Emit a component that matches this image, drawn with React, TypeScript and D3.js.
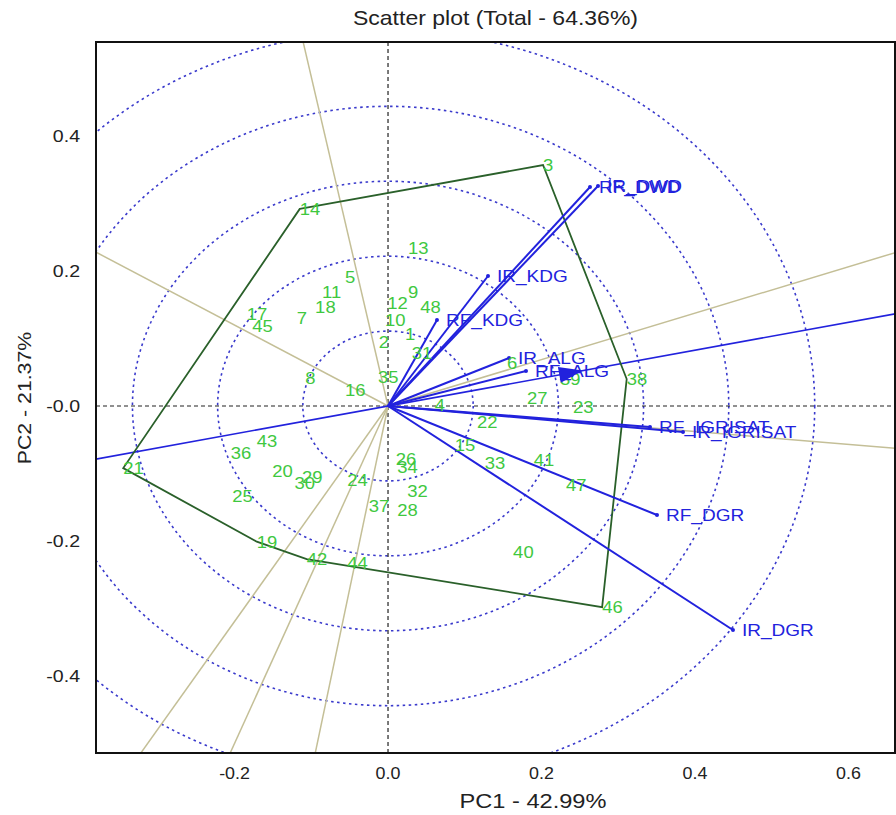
import React from 'react';
import * as d3 from 'd3';

// ---------- data ----------
const genoLabels = ['1','2','3','4','5','6','7','8','9','10','11','12','13','14','15','16','17','18','19','20','21','22','23','24','25','26','27','28','29','30','31','32','33','34','35','36','37','38','39','40','41','42','43','44','45','46','47','48'];
const genoX = [0.022,-0.012,0.202,0.061,-0.056,0.155,-0.119,-0.108,0.026,-0.004,-0.086,-0.001,0.026,-0.115,0.087,-0.056,-0.184,-0.095,-0.171,-0.151,-0.345,0.116,0.241,-0.053,-0.203,0.010,0.181,0.012,-0.112,-0.122,0.031,0.025,0.126,0.012,-0.013,-0.205,-0.025,0.311,0.224,0.163,0.190,-0.106,-0.171,-0.053,-0.177,0.279,0.232,0.042];
const genoY = [0.107,0.095,0.357,0.001,0.191,0.064,0.130,0.041,0.169,0.127,0.169,0.153,0.234,0.292,-0.058,0.024,0.136,0.147,-0.201,-0.096,-0.092,-0.024,-0.001,-0.110,-0.133,-0.079,0.012,-0.154,-0.105,-0.114,0.079,-0.126,-0.084,-0.090,0.043,-0.070,-0.148,0.040,0.040,-0.216,-0.080,-0.227,-0.052,-0.233,0.119,-0.298,-0.117,0.147];
const hullOrder = ['14','3','38','46','42','19','21'];

const envNames = ['IR_DWD','RF_DWD','IR_KDG','RF_KDG','IR_ALG','RF_ALG','RF_IGRISAT','IR_IGRISAT','RF_DGR','IR_DGR'];
const envX = [0.2736,0.2632,0.1303,0.0638,0.1577,0.1798,0.3414,0.3844,0.3505,0.4495];
const envY = [0.3259,0.3245,0.1926,0.1274,0.0711,0.0519,-0.0311,-0.0385,-0.1615,-0.3319];

const aeaX = 0.254;
const aeaY = 0.0525;

const circleRadii = [0.111,0.222,0.333,0.444,0.556];
const xTicks = [-0.2,0,0.2,0.4,0.6];
const xTickLabels = ['-0.2','0.0','0.2','0.4','0.6'];
const yTicks = [0.4,0.2,0,-0.2,-0.4];
const yTickLabels = ['0.4','0.2','-0.0','-0.2','-0.4'];

const title = 'Scatter plot (Total - 64.36%)';
const xLabel = 'PC1 - 42.99%';
const yLabel = 'PC2 - 21.37%';

// ---------- layout ----------
const W = 896, H = 815;
const L = 96, R = 895, T = 42, B = 753;

const C = {
  geno: '#3fc83f',
  hull: '#2a602a',
  env: '#2222dd',
  circ: '#3a3acc',
  ray: '#c4bf97',
  axis: '#222',
};

const FONT = 'Liberation Sans, Arial, Helvetica, sans-serif';

export default function App() {
  const x = d3.scaleLinear().domain([-0.3805, 0.6606]).range([L, R]);
  const y = d3.scaleLinear().domain([0.5393, -0.5141]).range([T, B]);
  const x0 = x(0), y0 = y(0);

  const idx = (lab: string) => genoLabels.indexOf(lab);
  const hullPts = hullOrder.map(l => [genoX[idx(l)], genoY[idx(l)]] as [number, number]);
  const line = d3.line<[number, number]>().x(d => x(d[0])).y(d => y(d[1]));

  // perpendicular rays from origin to each hull side
  const rays = hullPts.map((a, i) => {
    const b = hullPts[(i + 1) % hullPts.length];
    const dx = b[0] - a[0], dy = b[1] - a[1];
    const nx = -dy, ny = dx;
    const len = Math.hypot(nx, ny);
    return [nx / len * 3, ny / len * 3] as [number, number];
  });

  // arrow head for average environment axis
  const tx = x(aeaX), ty = y(aeaY);
  const ux0 = tx - x0, uy0 = ty - y0;
  const ul = Math.hypot(ux0, uy0);
  const ux = ux0 / ul, uy = uy0 / ul;
  const bx = tx - 24 * ux, by = ty - 24 * uy;
  const arrow = `M${tx},${ty}L${bx - 8 * uy},${by + 8 * ux}L${bx + 8 * uy},${by - 8 * ux}Z`;

  const sx = 1.12;

  return (
    <svg width={W} height={H} style={{ position: 'absolute', left: 0, top: 0, background: '#fff' }} fontFamily={FONT}>
      <defs>
        <clipPath id="plotclip"><rect x={L} y={T} width={R - L} height={B - T} /></clipPath>
      </defs>
      <rect x={0} y={0} width={W} height={H} fill="#fff" />
      <g clipPath="url(#plotclip)">
        {circleRadii.map((r, i) => (
          <ellipse key={'c' + i} cx={x0} cy={y0} rx={x(r) - x0} ry={y0 - y(r)} fill="none"
            stroke={C.circ} strokeWidth={1.6} strokeDasharray="2.5,3.5" />
        ))}
        <line x1={x0} x2={x0} y1={T} y2={B} stroke={C.axis} strokeWidth={1.2} strokeDasharray="4,3" />
        <line x1={L} x2={R} y1={y0} y2={y0} stroke={C.axis} strokeWidth={1.2} strokeDasharray="4,3" />
        {rays.map((d, i) => (
          <line key={'r' + i} x1={x0} y1={y0} x2={x(d[0])} y2={y(d[1])} stroke={C.ray} strokeWidth={1.5} />
        ))}
        <line x1={x(-aeaX * 10)} y1={y(-aeaY * 10)} x2={x(aeaX * 10)} y2={y(aeaY * 10)} stroke={C.env} strokeWidth={1.6} />
        <path d={line(hullPts)! + 'Z'} fill="none" stroke={C.hull} strokeWidth={1.8} />
        {envNames.map((n, i) => (
          <g key={'e' + i}>
            <line x1={x0} y1={y0} x2={x(envX[i])} y2={y(envY[i])} stroke={C.env} strokeWidth={2} />
            <circle cx={x(envX[i])} cy={y(envY[i])} r={2} fill={C.env} />
          </g>
        ))}
        {genoLabels.map((g, i) => (
          <text key={'g' + i} transform={`translate(${x(genoX[i])},${y(genoY[i])}) scale(${sx},1)`}
            dy="0.36em" fontSize={16.5} fill={C.geno}>{g}</text>
        ))}
        {envNames.map((n, i) => (
          <text key={'el' + i} transform={`translate(${x(envX[i]) + 9},${y(envY[i])}) scale(${sx},1)`}
            dy="0.36em" fontSize={17} fill={C.env}>{n}</text>
        ))}
        <path d={arrow} fill={C.env} />
      </g>
      <rect x={L} y={T} width={R - L} height={B - T} fill="none" stroke="#111" strokeWidth={2} />
      {xTicks.map((t, i) => (
        <text key={'xt' + i} transform={`translate(${x(t)},${B + 20}) scale(1.05,1)`} dy="0.36em"
          textAnchor="middle" fontSize={17} fill="#222">{xTickLabels[i]}</text>
      ))}
      {yTicks.map((t, i) => (
        <text key={'yt' + i} transform={`translate(80,${y(t)}) scale(1.15,1)`} dy="0.36em"
          textAnchor="end" fontSize={17} fill="#222">{yTickLabels[i]}</text>
      ))}
      <text transform={`translate(${(L + R) / 2},18) scale(1.15,1)`} dy="0.36em" textAnchor="middle"
        fontSize={20} fill="#222">{title}</text>
      <text transform={`translate(533,801) scale(1.18,1)`} dy="0.36em" textAnchor="middle"
        fontSize={20} fill="#222">{xLabel}</text>
      <text transform={`translate(24,398) rotate(-90) scale(1.12,1)`} dy="0.36em" textAnchor="middle"
        fontSize={19} fill="#222">{yLabel}</text>
    </svg>
  );
}
